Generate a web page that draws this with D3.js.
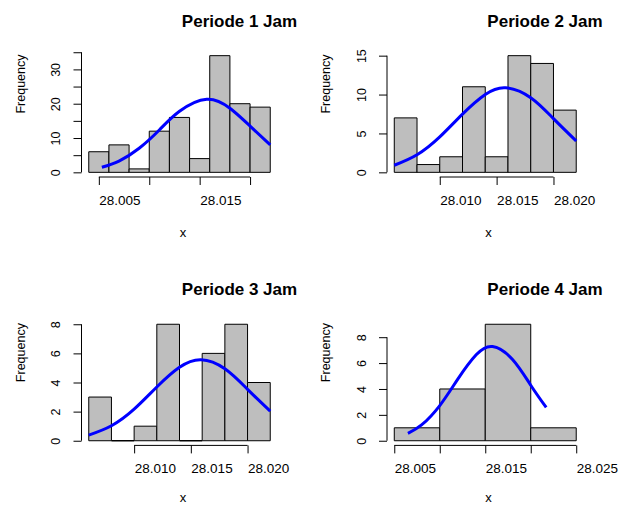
<!DOCTYPE html>
<html>
<head>
<meta charset="utf-8">
<script src="https://cdn.jsdelivr.net/npm/d3@7"></script>
<style>
  body { margin: 0; background: #fff; }
  svg text { font-family: "Liberation Sans", Arial, sans-serif; fill: #000; }
</style>
</head>
<body>
<div id="chart"></div>
<script>
// titles of the four panels
var titles = ["Periode 1 Jam", "Periode 2 Jam", "Periode 3 Jam", "Periode 4 Jam"];

// histogram breaks and counts
var breaks1 = [28.004, 28.006, 28.008, 28.010, 28.012, 28.014, 28.016, 28.018, 28.020, 28.022];
var counts1 = [6, 8, 1, 12, 16, 4, 34, 20, 19];
var breaks2 = [28.006, 28.008, 28.010, 28.012, 28.014, 28.016, 28.018, 28.020, 28.022];
var counts2 = [7, 1, 2, 11, 2, 15, 14, 8];
var breaks3 = [28.006, 28.008, 28.010, 28.012, 28.014, 28.016, 28.018, 28.020, 28.022];
var counts3 = [3, 0, 1, 8, 0, 6, 8, 4];
var breaks4 = [28.005, 28.010, 28.015, 28.020, 28.025];
var counts4 = [1, 4, 9, 1];

// blue normal curves
var curveX1 = [28.0053, 28.007, 28.009, 28.011, 28.013, 28.0157, 28.018, 28.020, 28.022];
var curveY1 = [1.47, 3.29, 7.03, 12.35, 17.79, 21.3, 18.69, 13.48, 7.99];
var curveX2 = [28.006, 28.008, 28.010, 28.012, 28.014, 28.0158, 28.018, 28.020, 28.022];
var curveY2 = [0.91, 2.26, 4.56, 7.49, 10.01, 10.88, 9.60, 6.90, 4.03];
var curveX3 = [28.006, 28.008, 28.010, 28.012, 28.014, 28.0159, 28.018, 28.020, 28.022];
var curveY3 = [0.39, 1.03, 2.17, 3.69, 5.04, 5.56, 4.94, 3.53, 2.03];
var curveX4 = [28.0065, 28.008, 28.010, 28.012, 28.014, 28.0158, 28.018, 28.020, 28.0217];
var curveY4 = [0.57, 1.22, 2.72, 4.78, 6.64, 7.28, 6.28, 4.29, 2.57];

// tick positions and which of them carry a label
var xTicks1 = [28.005, 28.010, 28.015, 28.020], xLabels1 = ["28.005", "28.015"];
var xTicks2 = [28.010, 28.015, 28.020], xLabels2 = ["28.010", "28.015", "28.020"];
var xTicks3 = [28.010, 28.015, 28.020], xLabels3 = ["28.010", "28.015", "28.020"];
var xTicks4 = [28.005, 28.010, 28.015, 28.020, 28.025], xLabels4 = ["28.005", "28.015", "28.025"];
var yTicks1 = [0, 5, 10, 15, 20, 25, 30, 35], yLabels1 = [0, 10, 20, 30];
var yTicks2 = [0, 5, 10, 15], yLabels2 = [0, 5, 10, 15];
var yTicks3 = [0, 2, 4, 6, 8], yLabels3 = [0, 2, 4, 6, 8];
var yTicks4 = [0, 2, 4, 6, 8], yLabels4 = [0, 2, 4, 6, 8];

var panels = [
    {title: titles[0], breaks: breaks1, counts: counts1, cx: curveX1, cy: curveY1, xt: xTicks1, xl: xLabels1, yt: yTicks1, yl: yLabels1},
    {title: titles[1], breaks: breaks2, counts: counts2, cx: curveX2, cy: curveY2, xt: xTicks2, xl: xLabels2, yt: yTicks2, yl: yLabels2},
    {title: titles[2], breaks: breaks3, counts: counts3, cx: curveX3, cy: curveY3, xt: xTicks3, xl: xLabels3, yt: yTicks3, yl: yLabels3},
    {title: titles[3], breaks: breaks4, counts: counts4, cx: curveX4, cy: curveY4, xt: xTicks4, xl: xLabels4, yt: yTicks4, yl: yLabels4}
];

var width = 619, height = 506;
// plot regions (left/right columns, top/bottom rows)
var cols = [[81.5, 277.5], [387, 583.5]];
var rows = [[51, 177], [319.6, 445.4]];

var svg = d3.select("#chart").append("svg")
    .attr("width", width)
    .attr("height", height);

var fmt = d3.format(".3f");

panels.forEach(function(p, i) {
    var col = cols[i % 2], row = rows[Math.floor(i / 2)];
    var g = svg.append("g");

    // R style: range extended by 4%
    var xmin = p.breaks[0], xmax = p.breaks[p.breaks.length - 1];
    var xpad = (xmax - xmin) * 0.04;
    var ymax = d3.max(p.counts), ypad = ymax * 0.04;
    var x = d3.scaleLinear().domain([xmin - xpad, xmax + xpad]).range(col);
    var y = d3.scaleLinear().domain([-ypad, ymax + ypad]).range([row[1], row[0]]);

    var bins = p.counts.map(function(c, k) { return {x0: p.breaks[k], x1: p.breaks[k + 1], n: c}; });

    g.selectAll("path.bar")
        .data(bins)
        .join("path")
            .attr("class", "bar")
            .attr("d", function(d) {
                return "M" + x(d.x0) + "," + y(0) + "H" + x(d.x1) + "V" + y(d.n) + "H" + x(d.x0) + "Z";
            })
            .attr("fill", "#bebebe")
            .attr("stroke", "#000")
            .attr("stroke-width", function(d) { return d.n === 0 ? 1.6 : 1; });

    // normal curve
    var line = d3.line()
        .x(function(d) { return x(d[0]); })
        .y(function(d) { return y(d[1]); })
        .curve(d3.curveNatural);
    g.append("path")
        .datum(p.cx.map(function(v, k) { return [v, p.cy[k]]; }))
        .attr("d", line)
        .attr("fill", "none")
        .attr("stroke", "#0000ff")
        .attr("stroke-width", 3);

    // x axis
    var xAxis = g.append("g")
        .attr("transform", "translate(0," + row[1] + ")")
        .call(d3.axisBottom(x).tickValues(p.xt).tickSize(8)
            .tickFormat(function(d) { return p.xl.indexOf(fmt(d)) >= 0 ? fmt(d) : ""; }));
    xAxis.select(".domain").remove();
    xAxis.append("line")
        .attr("x1", x(p.xt[0])).attr("x2", x(p.xt[p.xt.length - 1]))
        .attr("stroke", "#000");
    xAxis.selectAll(".tick line").attr("stroke", "#000");
    xAxis.selectAll(".tick text")
        .attr("y", 28).attr("dy", 0)
        .attr("text-anchor", "start")
        .style("font-size", "13.5px");

    // y axis
    var yAxis = g.append("g")
        .attr("transform", "translate(" + col[0] + ",0)")
        .call(d3.axisLeft(y).tickValues(p.yt).tickSize(8)
            .tickFormat(function(d) { return p.yl.indexOf(d) >= 0 ? d : ""; }));
    yAxis.select(".domain").remove();
    yAxis.append("line")
        .attr("y1", y(p.yt[0])).attr("y2", y(p.yt[p.yt.length - 1]))
        .attr("stroke", "#000");
    yAxis.selectAll(".tick line").attr("stroke", "#000");
    yAxis.selectAll(".tick text")
        .attr("transform", "rotate(-90)")
        .attr("x", 0).attr("y", -21.5).attr("dy", 0)
        .attr("text-anchor", "middle")
        .style("font-size", "12.5px");

    // titles and axis names
    g.append("text")
        .attr("x", col[0] + 158).attr("y", row[0] - 24.5)
        .attr("text-anchor", "middle")
        .style("font-size", "17px").style("font-weight", "bold")
        .text(p.title);
    g.append("text")
        .attr("x", col[0] + 101.5).attr("y", Math.min(row[1] + 60, height - 4))
        .attr("text-anchor", "middle")
        .style("font-size", "13px")
        .text("x");
    g.append("text")
        .attr("transform", "translate(" + (col[0] - 57) + "," + (row[0] + 33) + ") rotate(-90)")
        .attr("text-anchor", "middle")
        .style("font-size", "12.5px")
        .text("Frequency");
});
</script>
</body>
</html>
